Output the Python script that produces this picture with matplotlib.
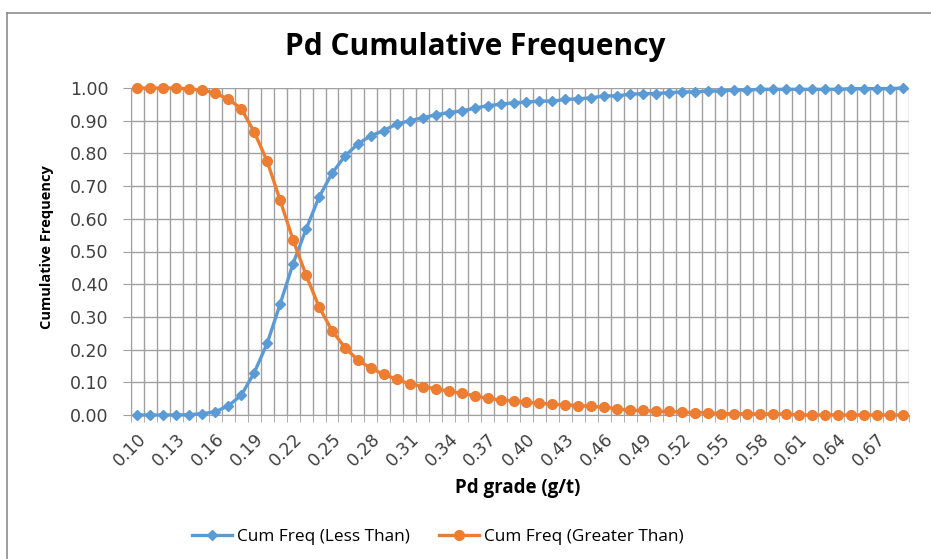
import numpy as np
import matplotlib
matplotlib.use("Agg")
import matplotlib.pyplot as plt
from matplotlib.lines import Line2D

# Pd grade categories (g/t), 0.10 .. 0.69
grades = ["%.2f" % (g / 100) for g in range(10, 70)]

cum_less = [0.000, 0.000, 0.000, 0.000, 0.001, 0.004, 0.010, 0.028, 0.060, 0.129,
            0.219, 0.339, 0.463, 0.568, 0.666, 0.739, 0.792, 0.829, 0.854, 0.870,
            0.890, 0.900, 0.909, 0.918, 0.925, 0.930, 0.938, 0.946, 0.950, 0.955,
            0.957, 0.960, 0.960, 0.965, 0.967, 0.970, 0.976, 0.976, 0.981, 0.983,
            0.983, 0.986, 0.988, 0.988, 0.991, 0.991, 0.994, 0.994, 0.996, 0.996,
            0.996, 0.996, 0.996, 0.996, 0.996, 0.998, 0.998, 0.998, 0.998, 1.000]

cum_greater = [1.000, 1.000, 1.000, 1.000, 0.997, 0.994, 0.984, 0.966, 0.937, 0.866,
               0.776, 0.657, 0.535, 0.428, 0.331, 0.258, 0.206, 0.168, 0.143, 0.124,
               0.109, 0.095, 0.087, 0.080, 0.073, 0.066, 0.059, 0.051, 0.046, 0.043,
               0.039, 0.036, 0.033, 0.031, 0.029, 0.026, 0.024, 0.019, 0.014, 0.014,
               0.011, 0.011, 0.009, 0.007, 0.007, 0.004, 0.004, 0.004, 0.003, 0.003,
               0.003, 0.000, 0.000, 0.000, 0.000, 0.000, 0.000, 0.000, 0.000, 0.000]

blue = "#5B9BD5"
orange = "#ED7D31"
grid_col = "#a0a0a0"
tick_col = "#404040"

fig = plt.figure(figsize=(9.31, 5.59), dpi=100)
ax = fig.add_axes([131 / 931, 1 - 415 / 559, 778 / 931, 327 / 559])

x = np.arange(len(grades))
ax.plot(x, cum_less, color=blue, lw=2.4, marker="D", ms=5.5, mec=blue,
        label="Cum Freq (Less Than)", clip_on=False, zorder=3)
ax.plot(x, cum_greater, color=orange, lw=2.4, marker="o", ms=7, mec=orange,
        label="Cum Freq (Greater Than)", clip_on=False, zorder=3)

ax.set_xlim(-0.5, len(grades) - 0.5)
ax.set_ylim(0, 1)

# category boundaries carry the vertical gridlines
ax.set_xticks(np.arange(-0.5, len(grades), 1), minor=True)
ax.set_xticks(x[::3])
ax.set_xticklabels(grades[::3], rotation=45, ha="right", rotation_mode="anchor",
                   fontsize=12.5, family="DejaVu Sans", color=tick_col)
ax.tick_params(axis="x", which="major", length=0, pad=11)
ax.tick_params(axis="x", which="minor", length=5, color=grid_col)
ax.grid(True, which="minor", axis="x", color=grid_col, lw=1)

ax.set_yticks(np.arange(0, 1.01, 0.1))
ax.set_yticklabels(["%.2f" % v for v in np.arange(0, 1.01, 0.1)],
                   fontsize=12.5, family="DejaVu Sans", color=tick_col)
ax.tick_params(axis="y", length=6, color=grid_col, pad=10)
ax.grid(True, which="major", axis="y", color=grid_col, lw=1)

for s in ["top", "right"]:
    ax.spines[s].set_visible(False)
for s in ["left", "bottom"]:
    ax.spines[s].set_color(grid_col)
ax.set_axisbelow(True)

fig.text(475 / 931, 1 - 47 / 559, "Pd Cumulative Frequency", ha="center", va="center",
         fontsize=21.5, fontweight="bold", family="Open Sans")
fig.text(47 / 931, 1 - 247 / 559, "Cumulative Frequency", rotation=90, ha="center",
         va="center", fontsize=10.5, fontweight="bold", family="Open Sans")
fig.text(518 / 931, 1 - 488 / 559, "Pd grade (g/t)", ha="center", va="center",
         fontsize=13.5, fontweight="bold", family="Open Sans")

fig.legend(loc="center", bbox_to_anchor=(438 / 931, 1 - 537 / 559), ncol=2,
           frameon=False, prop={"family": "Open Sans", "size": 12.4},
           handlelength=2.3, columnspacing=1.7, handletextpad=0.3)

# chart area border (left and top edges visible)
fig.add_artist(Line2D([7 / 931, 7 / 931], [0, 1 - 13 / 559], color="#8c8c8c", lw=1.2))
fig.add_artist(Line2D([7 / 931, 1], [1 - 13 / 559, 1 - 13 / 559], color="#8c8c8c", lw=1.2))

fig.savefig("out.png", dpi=100)
